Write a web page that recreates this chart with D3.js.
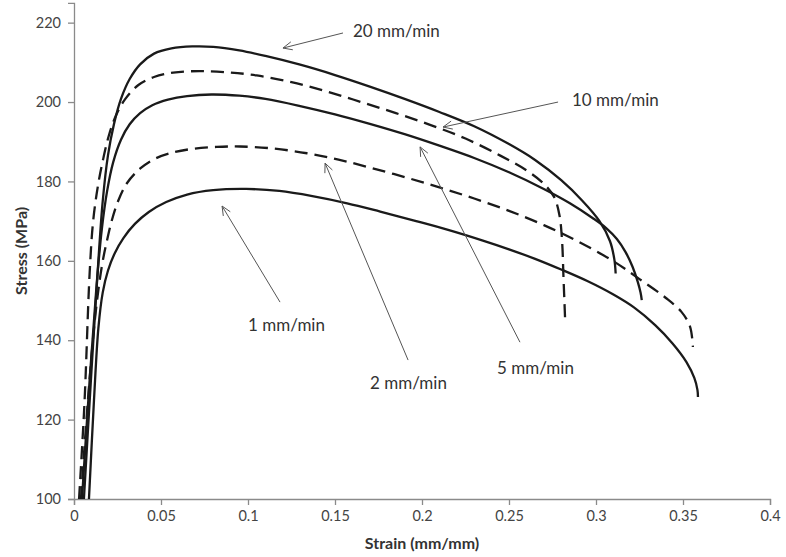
<!DOCTYPE html>
<html>
<head>
<meta charset="utf-8">
<script src="https://cdn.jsdelivr.net/npm/d3@7"></script>
<style>
  html, body { margin: 0; padding: 0; background: #fff; }
  svg { display: block; }
</style>
</head>
<body>
<svg id="chart" width="786" height="557"></svg>
<script>
// ---- data ----
const xTicks = [0, 0.05, 0.1, 0.15, 0.2, 0.25, 0.3, 0.35, 0.4];
const xTickLabels = ["0", "0.05", "0.1", "0.15", "0.2", "0.25", "0.3", "0.35", "0.4"];
const yTicks = [100, 120, 140, 160, 180, 200, 220];
const yTickLabels = ["100", "120", "140", "160", "180", "200", "220"];

const rate20 = [[0.0057,100],[0.0100,132],[0.0140,160],[0.0165,175],[0.0195,186.5],[0.0230,194.5],[0.0270,200.8],[0.0320,205.8],[0.0380,209.5],[0.0460,212.2],[0.0560,213.5],[0.0680,214.0],[0.0800,213.9],[0.0950,213.0],[0.1100,211.6],[0.1300,209.4],[0.1500,206.8],[0.1700,203.9],[0.1900,200.8],[0.2100,197.5],[0.2300,193.9],[0.2500,189.4],[0.2650,185.4],[0.2800,180.3],[0.2920,175.2],[0.3020,170.0],[0.3080,165.0],[0.3105,160.5],[0.3113,156.8]];
const rate10 = [[0.0029,100],[0.0060,124],[0.0090,157],[0.0110,170],[0.0138,179],[0.0167,185.5],[0.0200,191.5],[0.0240,196.5],[0.0295,200.8],[0.0370,204.3],[0.0460,206.3],[0.0570,207.4],[0.0720,207.8],[0.0880,207.5],[0.1050,206.7],[0.1250,205.0],[0.1450,202.7],[0.1650,200.0],[0.1850,197.2],[0.2050,194.2],[0.2250,190.8],[0.2450,186.5],[0.2600,182.8],[0.2700,179.4],[0.2760,176.0],[0.2790,171.5],[0.2805,165.0],[0.2813,156.0],[0.2822,145.8]];
const rate5 = [[0.0046,100],[0.0090,130],[0.0130,154],[0.0160,168],[0.0190,177.5],[0.0225,184.8],[0.0270,190.5],[0.0320,194.4],[0.0380,197.2],[0.0450,199.2],[0.0540,200.6],[0.0650,201.5],[0.0790,201.9],[0.0950,201.6],[0.1100,200.8],[0.1300,199.0],[0.1500,196.9],[0.1700,194.5],[0.1900,191.9],[0.2100,189.0],[0.2300,185.9],[0.2500,182.3],[0.2700,178.1],[0.2850,174.5],[0.2980,170.8],[0.3060,168.2],[0.3120,165.5],[0.3170,162.2],[0.3210,158.5],[0.3240,154.7],[0.3256,152.0],[0.3263,150.1]];
const rate2 = [[0.0040,100],[0.0080,124.9],[0.0126,147.6],[0.0161,158.9],[0.0190,165.2],[0.0218,170.3],[0.0253,175.0],[0.0305,179.6],[0.0379,183.2],[0.0460,185.6],[0.0560,187.2],[0.0680,188.2],[0.0820,188.7],[0.0954,188.8],[0.1144,188.3],[0.1339,187.1],[0.1520,185.5],[0.1700,183.5],[0.1900,181.1],[0.2100,178.5],[0.2300,175.7],[0.2500,172.6],[0.2700,169.0],[0.2900,164.8],[0.3100,159.9],[0.3250,155.4],[0.3400,150.7],[0.3490,147.2],[0.3540,143.5],[0.3557,138.3]];
const rate1 = [[0.0086,100],[0.0115,125],[0.0140,143],[0.0165,152],[0.0195,157.5],[0.0235,162],[0.0285,165.8],[0.0350,169.3],[0.0430,172.3],[0.0530,174.8],[0.0650,176.7],[0.0800,177.8],[0.0990,178.1],[0.1180,177.6],[0.1370,176.3],[0.1570,174.5],[0.1760,172.4],[0.1950,170.2],[0.2150,167.8],[0.2350,165.1],[0.2500,162.9],[0.2650,160.5],[0.2800,157.8],[0.2950,154.9],[0.3100,151.5],[0.3220,148.2],[0.3340,143.8],[0.3440,139.2],[0.3520,134.5],[0.3565,130.5],[0.3583,127.5],[0.3586,125.7]];

const seriesNames = ["20 mm/min", "10 mm/min", "5 mm/min", "2 mm/min", "1 mm/min"];
const seriesData = [rate20, rate10, rate5, rate2, rate1];
const seriesDashed = [false, true, false, true, false];

// annotation: text anchor point [x,y], arrow tail [x,y], arrow head [x,y]
const labelPos = [[0.1603,217.9],[0.2862,200.5],[0.2431,133.0],[0.1701,129.2],[0.1000,143.8]];
const arrowTail = [[0.1546,217.4],[0.2782,200.0],[0.2563,139.5],[0.1920,135.0],[0.1184,149.6]];
const arrowHead = [[0.1201,213.6],[0.2121,193.7],[0.1989,188.7],[0.1443,184.6],[0.0851,173.8]];

// ---- layout ----
const svg = d3.select("#chart");
const x = d3.scaleLinear().domain([0, 0.4]).range([74, 770]);
const y = d3.scaleLinear().domain([100, 225]).range([499, 2.8]);
const FONT = "Lato, 'Open Sans', sans-serif";

// axes
const xAxis = d3.axisBottom(x).tickValues(xTicks)
  .tickFormat((d, i) => xTickLabels[i]).tickSizeOuter(0).tickSize(6).tickPadding(6);
const yAxis = d3.axisLeft(y).tickValues(yTicks)
  .tickFormat((d, i) => yTickLabels[i]).tickSizeOuter(0).tickSize(6).tickPadding(7);

const gx = svg.append("g").attr("transform", `translate(0,${y(100)})`).call(xAxis);
const gy = svg.append("g").attr("transform", `translate(${x(0)},0)`).call(yAxis);
[gx, gy].forEach(g => {
  g.select(".domain").attr("stroke", "#8a8a8a").attr("stroke-width", 1.3);
  g.selectAll(".tick line").attr("stroke", "#8a8a8a").attr("stroke-width", 1.3);
  g.selectAll(".tick text").attr("fill", "#444").style("font-family", FONT).style("font-size", "14.5px");
});

// axis titles
svg.append("text")
  .attr("x", (x(0) + x(0.4)) / 2).attr("y", 549)
  .attr("text-anchor", "middle")
  .style("font-family", FONT).style("font-size", "16px").style("font-weight", "bold")
  .attr("fill", "#333").text("Strain (mm/mm)");
svg.append("text")
  .attr("transform", `translate(27,${(y(100) + y(225)) / 2}) rotate(-90)`)
  .attr("text-anchor", "middle")
  .style("font-family", FONT).style("font-size", "16px").style("font-weight", "bold")
  .attr("fill", "#333").text("Stress (MPa)");

// curves
const line = d3.line().x(d => x(d[0])).y(d => y(d[1])).curve(d3.curveCatmullRom.alpha(0.5));
svg.append("g").selectAll("path").data(seriesData).join("path")
  .attr("d", line)
  .attr("fill", "none")
  .attr("stroke", "#1a1a1a")
  .attr("stroke-width", 2.3)
  .attr("stroke-dasharray", (d, i) => seriesDashed[i] ? "13,7" : null);

// annotations
const ann = svg.append("g");
seriesNames.forEach((name, i) => {
  const tx = x(arrowTail[i][0]), ty = y(arrowTail[i][1]);
  const hx = x(arrowHead[i][0]), hy = y(arrowHead[i][1]);
  ann.append("line").attr("x1", tx).attr("y1", ty).attr("x2", hx).attr("y2", hy)
    .attr("stroke", "#555").attr("stroke-width", 1);
  const ang = Math.atan2(ty - hy, tx - hx);
  const L = 10, a = 0.42;
  const p1 = [hx + L * Math.cos(ang + a), hy + L * Math.sin(ang + a)];
  const p2 = [hx + L * Math.cos(ang - a), hy + L * Math.sin(ang - a)];
  ann.append("path")
    .attr("d", `M${p1[0]},${p1[1]}L${hx},${hy}L${p2[0]},${p2[1]}`)
    .attr("fill", "none").attr("stroke", "#555").attr("stroke-width", 1);
  ann.append("text")
    .attr("x", x(labelPos[i][0])).attr("y", y(labelPos[i][1]))
    .attr("dy", "0.36em")
    .style("font-family", FONT).style("font-size", "17px")
    .attr("fill", "#333").text(name);
});
</script>
</body>
</html>
